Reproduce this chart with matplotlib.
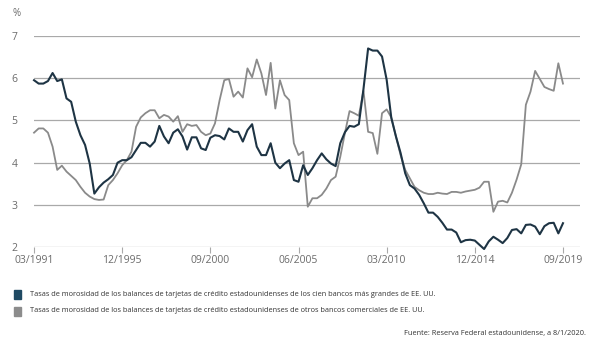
import matplotlib.pyplot as plt

plt.rcParams['font.family'] = ['Open Sans', 'DejaVu Sans']

# quarterly data, 03/1991 .. 09/2019
tick_labels = ['03/1991', '12/1995', '09/2000', '06/2005', '03/2010', '12/2014', '09/2019']

top100 = [5.95, 5.87, 5.87, 5.93, 6.12, 5.93, 5.97, 5.52, 5.44, 4.97,
          4.65, 4.42, 3.98, 3.27, 3.42, 3.53, 3.61, 3.71, 4.00, 4.06,
          4.06, 4.13, 4.30, 4.47, 4.47, 4.38, 4.50, 4.87, 4.62, 4.46,
          4.71, 4.79, 4.62, 4.31, 4.60, 4.60, 4.34, 4.30, 4.59, 4.65,
          4.63, 4.55, 4.81, 4.73, 4.73, 4.50, 4.77, 4.91, 4.38, 4.18,
          4.18, 4.46, 4.00, 3.87, 3.98, 4.06, 3.59, 3.55, 3.94, 3.71,
          3.87, 4.06, 4.22, 4.08, 3.98, 3.92, 4.46, 4.72, 4.87, 4.85,
          4.91, 5.74, 6.70, 6.65, 6.65, 6.51, 5.96, 5.06, 4.62, 4.23,
          3.75, 3.47, 3.39, 3.24, 3.04, 2.82, 2.82, 2.72, 2.58, 2.42,
          2.42, 2.35, 2.12, 2.17, 2.18, 2.16, 2.06, 1.96, 2.14, 2.25,
          2.18, 2.10, 2.22, 2.41, 2.43, 2.33, 2.53, 2.54, 2.49, 2.31,
          2.50, 2.57, 2.58, 2.33, 2.57]

others = [4.71, 4.81, 4.81, 4.71, 4.38, 3.83, 3.93, 3.79, 3.69, 3.59,
          3.43, 3.29, 3.20, 3.14, 3.12, 3.13, 3.47, 3.59, 3.75, 3.94,
          4.06, 4.26, 4.85, 5.07, 5.17, 5.24, 5.24, 5.05, 5.13, 5.09,
          4.97, 5.10, 4.73, 4.91, 4.87, 4.89, 4.73, 4.65, 4.69, 4.93,
          5.48, 5.95, 5.98, 5.56, 5.68, 5.54, 6.23, 6.02, 6.44, 6.11,
          5.60, 6.36, 5.28, 5.95, 5.60, 5.48, 4.46, 4.18, 4.26, 2.96,
          3.16, 3.16, 3.24, 3.39, 3.59, 3.67, 4.14, 4.70, 5.22, 5.17,
          5.11, 5.70, 4.73, 4.70, 4.21, 5.17, 5.26, 5.07, 4.62, 4.18,
          3.83, 3.63, 3.43, 3.35, 3.29, 3.26, 3.26, 3.29, 3.27, 3.26,
          3.31, 3.31, 3.29, 3.32, 3.34, 3.36, 3.41, 3.55, 3.55, 2.84,
          3.08, 3.10, 3.06, 3.29, 3.60, 3.96, 5.37, 5.68, 6.17, 5.98,
          5.79, 5.74, 5.70, 6.35, 5.87]

legend_labels = [
    'Tasas de morosidad de los balances de tarjetas de crédito estadounidenses de los cien bancos más grandes de EE. UU.',
    'Tasas de morosidad de los balances de tarjetas de crédito estadounidenses de otros bancos comerciales de EE. UU.',
]
source = 'Fuente: Reserva Federal estadounidense, a 8/1/2020.'

DARK = '#1e3444'
GREY = '#8a8a8a'
TXT = '#6b6b6b'

quarters = list(range(len(top100)))

fig = plt.figure(figsize=(5.97, 3.44), dpi=100)
ax = fig.add_axes([0.057, 0.281, 0.914, 0.615])

for v in range(2, 8):
    ax.axhline(v, color='#a9a9a9', lw=0.9, zorder=1)

ax.plot(quarters, others, color=GREY, lw=1.3, zorder=2, clip_on=False)
ax.plot(quarters, top100, color=DARK, lw=1.5, zorder=3, clip_on=False)

ax.set_xlim(0, 117.6)
ax.set_ylim(2, 7)
for s in ax.spines.values():
    s.set_visible(False)

ax.set_yticks(range(2, 8))
ax.set_xticks(range(0, 115, 19))
ax.set_xticklabels(tick_labels)
ax.tick_params(axis='y', length=0, pad=14, labelsize=7.5, labelcolor=TXT)
ax.tick_params(axis='x', length=4, width=0.8, color='#a9a9a9', pad=1.5,
               labelsize=7.5, labelcolor=TXT)
for lbl in ax.get_yticklabels():
    lbl.set_horizontalalignment('center')

fig.text(17 / 597, 1 - 13 / 344, '%', fontsize=7, color=TXT, ha='center', va='center')

# legend squares and text
for i, (lab, col) in enumerate(zip(legend_labels, ['#1f4a63', '#8c8c8c'])):
    y = 1 - (294 + 17 * i) / 344
    fig.patches.append(plt.Rectangle((14 / 597, y - 4.5 / 344), 7 / 597, 9 / 344,
                                     transform=fig.transFigure, color=col))
    fig.text(30 / 597, y, lab, fontsize=5.3, color='#333333', va='center')

fig.text(586 / 597, 1 - 333 / 344, source, fontsize=5.3, color='#333333',
         ha='right', va='center')

fig.savefig('out.png', dpi=100, facecolor='white')
